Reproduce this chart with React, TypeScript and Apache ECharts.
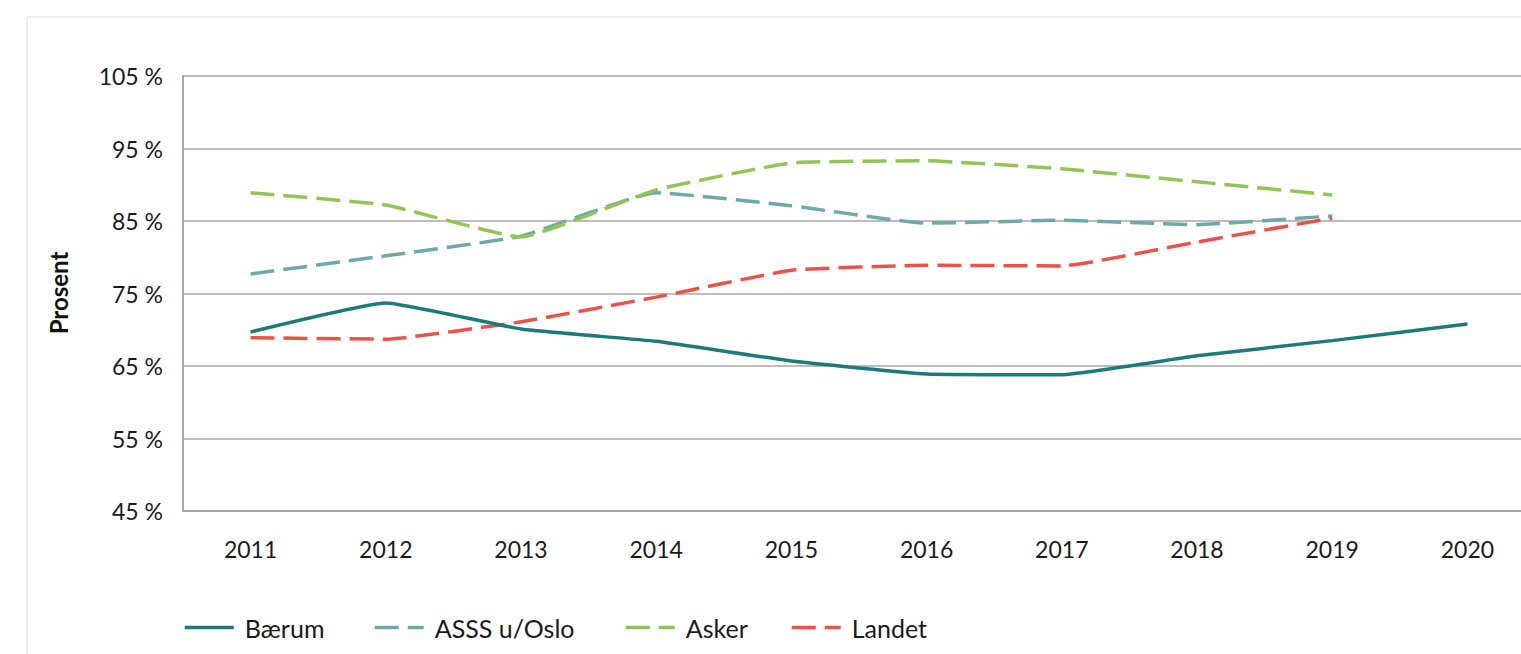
import React, { useEffect, useRef } from "react";
import * as echarts from "echarts";

const years = ["2011", "2012", "2013", "2014", "2015", "2016", "2017", "2018", "2019", "2020"];
const baerum = [69.7, 73.7, 70.1, 68.4, 65.7, 63.9, 63.8, 66.4, 68.5, 70.8];
const asssUOslo = [77.7, 80.2, 82.9, 88.9, 87.1, 84.7, 85.1, 84.5, 85.7, null];
const asker = [88.9, 87.2, 82.8, 89.3, 93.0, 93.3, 92.2, 90.4, 88.6, null];
const landet = [68.9, 68.7, 71.1, 74.5, 78.2, 78.9, 78.8, 82.1, 85.4, null];
const legendNames = ["Bærum", "ASSS u/Oslo", "Asker", "Landet"];
const legendLefts = [183, 373, 624, 790];

const FONT = "Lato, 'Noto Sans', sans-serif";

export default function App() {
  const ref = useRef<HTMLDivElement>(null);
  useEffect(() => {
    if (!ref.current) return;
    document.documentElement.style.overflow = "hidden";
    document.body.style.overflow = "hidden";
    document.body.style.margin = "0";
    const chart = echarts.init(ref.current, undefined, { renderer: "svg" });
    const dashed = (color: string) => ({
      color,
      width: 3.5,
      type: [24, 9] as any,
      cap: "butt" as const,
    });
    chart.setOption({
      animation: false,
      backgroundColor: "#ffffff",
      textStyle: { fontFamily: FONT },
      graphic: [
        { type: "line", shape: { x1: 27, y1: 17, x2: 1600, y2: 17 }, style: { stroke: "#eeeeee", lineWidth: 2 } },
        { type: "line", shape: { x1: 27, y1: 17, x2: 27, y2: 654 }, style: { stroke: "#eeeeee", lineWidth: 2 } },
        {
          type: "text",
          x: 58,
          y: 293,
          rotation: Math.PI / 2,
          style: {
            text: "Prosent",
            fill: "#111",
            font: `bold 24px ${FONT}`,
            textAlign: "center",
            textVerticalAlign: "middle",
          },
        },
      ],
      grid: { left: 183, top: 76, width: 1352, height: 435, containLabel: false, outerBoundsMode: "none" },
      legend: legendNames.map((n, i) => ({
        left: legendLefts[i],
        top: 615,
        padding: 0,
        itemWidth: 49,
        itemHeight: 14,
        itemStyle: { opacity: 0 },
        lineStyle: { width: 3.5 },
        textStyle: { fontSize: 25, color: "#1a1a1a", fontFamily: FONT, padding: [0, 0, 0, 6] },
        data: [n],
      })),
      xAxis: {
        type: "category",
        data: years,
        boundaryGap: true,
        axisLine: { show: true, lineStyle: { color: "#a6a6a6", width: 2 } },
        axisTick: { show: false },
        axisLabel: { fontSize: 23, color: "#1a1a1a", margin: 26, fontFamily: FONT },
        splitLine: { show: false },
      },
      yAxis: {
        type: "value",
        min: 45,
        max: 105,
        interval: 10,
        axisLine: { show: true, lineStyle: { color: "#a6a6a6", width: 2 } },
        axisTick: { show: false },
        axisLabel: { fontSize: 23, color: "#1a1a1a", margin: 20, formatter: (v: number) => `${v} %`, fontFamily: FONT },
        splitLine: { show: true, lineStyle: { color: "#bdbdbd", width: 2 } },
      },
      series: [
        {
          name: "Bærum",
          type: "line",
          data: baerum,
          symbol: "none",
          smooth: 0.12,
          lineStyle: { color: "#1d7a78", width: 3.5 },
          itemStyle: { color: "#1d7a78" },
          z: 5,
        },
        {
          name: "ASSS u/Oslo",
          type: "line",
          data: asssUOslo,
          symbol: "none",
          smooth: 0.12,
          lineStyle: dashed("#6ea9a9"),
          itemStyle: { color: "#6ea9a9" },
        },
        {
          name: "Asker",
          type: "line",
          data: asker,
          symbol: "none",
          smooth: 0.12,
          lineStyle: dashed("#93c455"),
          itemStyle: { color: "#93c455" },
        },
        {
          name: "Landet",
          type: "line",
          data: landet,
          symbol: "none",
          smooth: 0.12,
          lineStyle: dashed("#e9534b"),
          itemStyle: { color: "#e9534b" },
        },
      ],
    });
    return () => chart.dispose();
  }, []);
  return (
    <div style={{ position: "fixed", left: 0, top: 0, width: 1521, height: 654, overflow: "hidden" }}>
      <div ref={ref} style={{ width: 1600, height: 654 }} />
    </div>
  );
}
